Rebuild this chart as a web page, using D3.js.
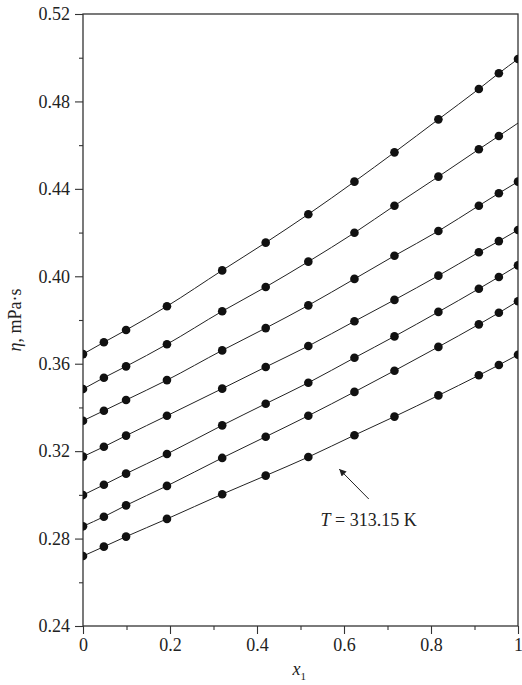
<html>
<script src='https://d3js.org/d3.v7.min.js'></script>
<style>
body {margin: 0; background: #fff;}
text {font-family: 'Liberation Serif', 'Times New Roman', serif; fill: #222;}
</style>
<body>
<svg id='chart' width='522' height='685'></svg>
<script>
// mole fraction values
const xValues = [0, 0.048, 0.099, 0.193, 0.32, 0.42, 0.518, 0.624, 0.716, 0.817, 0.91, 0.956, 1.0];

// viscosity, one array per temperature (top = lowest T)
const s1 = [0.3644, 0.3698, 0.3754, 0.3863, 0.4027, 0.4154, 0.4284, 0.4433, 0.4567, 0.4718, 0.4857, 0.4929, 0.4994];
const s2 = [0.3484, 0.3536, 0.3588, 0.3689, 0.3840, 0.3951, 0.4067, 0.4199, 0.4323, 0.4456, 0.4581, 0.4642, 0.4701];
const s3 = [0.3339, 0.3385, 0.3434, 0.3525, 0.3661, 0.3763, 0.3867, 0.3988, 0.4094, 0.4207, 0.4323, 0.4380, 0.4433];
const s4 = [0.3175, 0.3220, 0.3271, 0.3362, 0.3486, 0.3585, 0.3681, 0.3794, 0.3892, 0.4003, 0.4110, 0.4161, 0.4212];
const s5 = [0.2999, 0.3046, 0.3097, 0.3187, 0.3318, 0.3417, 0.3513, 0.3627, 0.3725, 0.3837, 0.3943, 0.3997, 0.4050];
const s6 = [0.2856, 0.2900, 0.2952, 0.3041, 0.3169, 0.3266, 0.3362, 0.3471, 0.3568, 0.3677, 0.3780, 0.3833, 0.3886];
const s7 = [0.2720, 0.2763, 0.2809, 0.2890, 0.3003, 0.3088, 0.3173, 0.3273, 0.3358, 0.3455, 0.3547, 0.3594, 0.3641];
const series = [s1, s2, s3, s4, s5, s6, s7];

// points drawn without a marker: [series index, point index]
const noMarker = [[1, 12]];

const xTicks = [0, 0.2, 0.4, 0.6, 0.8, 1];
const xMinor = [0.1, 0.3, 0.5, 0.7, 0.9];
const yTicks = [0.24, 0.28, 0.32, 0.36, 0.40, 0.44, 0.48, 0.52];
const yMinor = [0.26, 0.30, 0.34, 0.38, 0.42, 0.46, 0.50];

// annotation: arrow from tail to head, label position
const arrowTail = [0.657, 0.2981];
const arrowHead = [0.589, 0.3118];
const labelPos = [0.546, 0.2856];

const margin = {left: 83, top: 14, right: 4, bottom: 59};
const width = 522 - margin.left - margin.right,
      height = 685 - margin.top - margin.bottom;

const svg = d3.select('#chart');
const g = svg.append('g')
  .attr('transform', 'translate(' + margin.left + ',' + margin.top + ')');

const x = d3.scaleLinear().domain([0, 1]).range([0, width]);
const y = d3.scaleLinear().domain([0.24, 0.52]).range([height, 0]);

g.append('clipPath').attr('id', 'plotClip')
  .append('rect').attr('width', width).attr('height', height);

// minor ticks
g.append('g')
  .attr('transform', 'translate(0,' + height + ')')
  .call(d3.axisBottom(x).tickValues(xMinor).tickSize(4).tickFormat(''))
  .call(a => a.select('.domain').remove());
g.append('g')
  .call(d3.axisLeft(y).tickValues(yMinor).tickSize(4).tickFormat(''))
  .call(a => a.select('.domain').remove());

// major ticks with labels
const xAxis = g.append('g')
  .attr('transform', 'translate(0,' + height + ')')
  .call(d3.axisBottom(x).tickValues(xTicks).tickSize(8).tickPadding(4).tickFormat(d3.format('~g')));
xAxis.select('.domain').remove();
xAxis.selectAll('text').attr('font-size', 18).attr('font-family', "'Liberation Serif', serif").attr('fill', '#222');

const yAxis = g.append('g')
  .call(d3.axisLeft(y).tickValues(yTicks).tickSize(8).tickPadding(5).tickFormat(d3.format('.2f')));
yAxis.select('.domain').remove();
yAxis.selectAll('text').attr('font-size', 18).attr('font-family', "'Liberation Serif', serif").attr('fill', '#222');

g.selectAll('.tick line').attr('stroke', '#333').attr('stroke-width', 1.1);

// frame
g.append('rect')
  .attr('width', width).attr('height', height)
  .attr('fill', 'none').attr('stroke', '#333').attr('stroke-width', 1.3);

// lines and points
const line = d3.line()
  .x((d, i) => x(xValues[i]))
  .y(d => y(d))
  .curve(d3.curveMonotoneX);

const plot = g.append('g').attr('clip-path', 'url(#plotClip)');

plot.selectAll('.series')
  .data(series)
  .enter().append('path')
  .attr('class', 'series')
  .attr('d', line)
  .attr('fill', 'none')
  .attr('stroke', '#222')
  .attr('stroke-width', 1);

series.forEach(function(s, si) {
  const pts = s.map((v, i) => ({x: xValues[i], y: v, i: i}))
    .filter(p => !noMarker.some(m => m[0] === si && m[1] === p.i));
  plot.append('g').selectAll('circle')
    .data(pts)
    .enter().append('circle')
    .attr('cx', d => x(d.x))
    .attr('cy', d => y(d.y))
    .attr('r', 4.3)
    .attr('fill', '#111');
});

// arrow annotation
svg.append('defs').append('marker')
  .attr('id', 'head')
  .attr('viewBox', '0 0 10 10')
  .attr('refX', 10).attr('refY', 5)
  .attr('markerWidth', 9).attr('markerHeight', 7)
  .attr('markerUnits', 'userSpaceOnUse')
  .attr('orient', 'auto')
  .append('path').attr('d', 'M0,0 L10,5 L0,10 Z').attr('fill', '#222');

g.append('line')
  .attr('x1', x(arrowTail[0])).attr('y1', y(arrowTail[1]))
  .attr('x2', x(arrowHead[0])).attr('y2', y(arrowHead[1]))
  .attr('stroke', '#222').attr('stroke-width', 1)
  .attr('marker-end', 'url(#head)');

const lab = g.append('text')
  .attr('x', x(labelPos[0])).attr('y', y(labelPos[1]))
  .attr('font-size', 18);
lab.append('tspan').attr('font-style', 'italic').text('T');
lab.append('tspan').text(' = 313.15 K');

// axis titles
const xt = svg.append('text')
  .attr('x', margin.left + width / 2 - 8)
  .attr('y', 675)
  .attr('font-size', 18);
xt.append('tspan').attr('font-style', 'italic').text('x');
xt.append('tspan').attr('font-size', 11).attr('dy', 5).text('1');

const yt = svg.append('text')
  .attr('transform', 'translate(21,' + (margin.top + height / 2) + ') rotate(-90)')
  .attr('text-anchor', 'middle')
  .attr('font-size', 18);
yt.append('tspan').attr('font-style', 'italic').text('η');
yt.append('tspan').text(', mPa·s');
</script>
</body>
</html>
